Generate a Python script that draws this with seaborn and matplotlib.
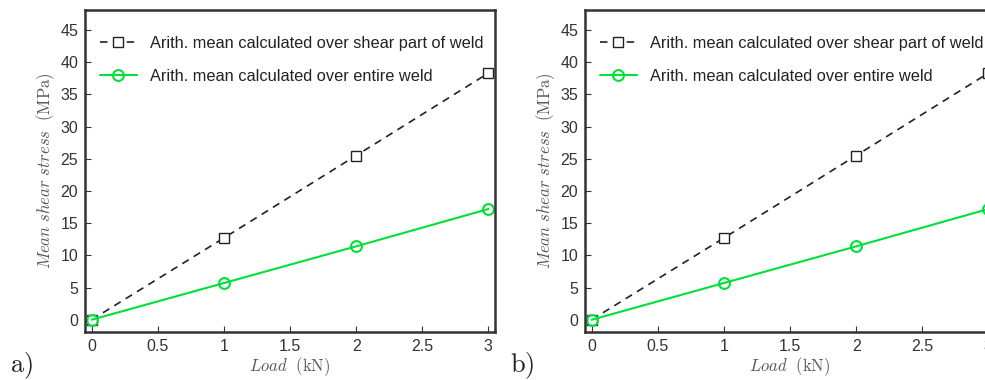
import numpy as np
import pandas as pd
import matplotlib
matplotlib.use('Agg')
import matplotlib.pyplot as plt
import seaborn as sns

# data
load_kn = [0, 1, 2, 3]
shear_part = [0, 12.7, 25.5, 38.3]
entire_weld = [0, 5.7, 11.4, 17.2]
label_shear = 'Arith. mean calculated over shear part of weld'
label_entire = 'Arith. mean calculated over entire weld'
panel_names = ['a)', 'b)']
xticks = [0, 0.5, 1, 1.5, 2, 2.5, 3]
yticks = [0, 5, 10, 15, 20, 25, 30, 35, 40, 45]

sns.set_theme(style='white')
plt.rcParams['font.family'] = ['Liberation Sans', 'DejaVu Sans']
plt.rcParams['mathtext.fontset'] = 'cm'

green = '#00e03a'
fig = plt.figure(figsize=(9.85, 3.8), dpi=100)

# second panel runs past the right edge, as in the cropped reference
positions = [[85 / 985, 48 / 380, 410 / 985, 322 / 380],
             [585 / 985, 48 / 380, 410 / 985, 322 / 380]]

for pos, name in zip(positions, panel_names):
    ax = fig.add_axes(pos)
    sns.lineplot(x=load_kn, y=shear_part, ax=ax, color='#222222', linestyle=(0, (4.5, 3.5)),
                 linewidth=1.2, marker='s', markersize=6.5, markerfacecolor='white',
                 markeredgecolor='#222222', markeredgewidth=1.0, label=label_shear)
    sns.lineplot(x=load_kn, y=entire_weld, ax=ax, color=green, linewidth=1.5,
                 marker='o', markersize=7.8, markerfacecolor='none',
                 markeredgecolor=green, markeredgewidth=1.5, label=label_entire)

    ax.set_xlim(-0.05, 3.05)
    ax.set_ylim(-1.9, 48.1)
    ax.set_xticks(xticks)
    ax.set_xticklabels(['0', '0.5', '1', '1.5', '2', '2.5', '3'])
    ax.set_yticks(yticks)
    ax.tick_params(direction='in', length=4, width=0.8, colors='#333333',
                   labelsize=11.5, left=True, bottom=True, pad=5)
    for sp in ax.spines.values():
        sp.set_linewidth(1.8)
        sp.set_color('#333333')

    ax.set_xlabel(r'$Load\ \ \mathrm{(kN)}$', fontsize=12, color='#555555', labelpad=1)
    ax.set_ylabel(r'$Mean\ shear\ stress\ \ \mathrm{(MPa)}$', fontsize=12,
                  color='#555555', labelpad=2)

    leg = ax.legend(loc='upper left', bbox_to_anchor=(0, 0.966), frameon=False,
                    fontsize=11.8, handlelength=2.25, handletextpad=0.8,
                    labelspacing=1.1, borderaxespad=0.5)
    for t in leg.get_texts():
        t.set_color('#222222')

    fig.text(pos[0] - 75 / 985, 8 / 380, r'$\mathrm{' + name + '}$', fontsize=19,
             color='#222222')

fig.savefig('out.png', dpi=100)
